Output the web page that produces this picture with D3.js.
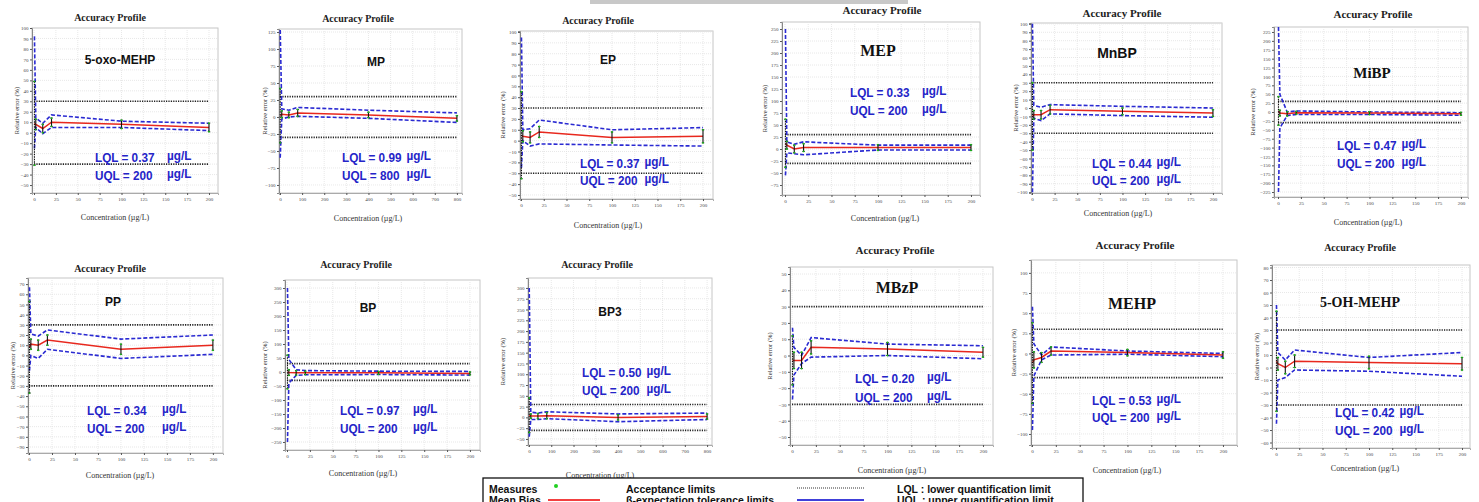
<!DOCTYPE html>
<html>
<head>
<meta charset="utf-8">
<script src="https://cdn.jsdelivr.net/npm/d3@7"></script>
<style>
  body { margin: 0; background: #fff; }
  svg { display: block; }
</style>
</head>
<body>
<script>
// ---- data ----
const compounds = ["5-oxo-MEHP", "MP", "EP", "MEP", "MnBP", "MiBP", "PP", "BP", "BP3", "MBzP", "MEHP", "5-OH-MEHP"];
const lqlValues = ["0.37", "0.99", "0.37", "0.33", "0.44", "0.47", "0.34", "0.97", "0.50", "0.20", "0.53", "0.42"];
const uqlValues = ["200", "800", "200", "200", "200", "200", "200", "200", "200", "200", "200", "200"];
// highest concentration level of each profile (µg/L)
const concMax = [200, 800, 200, 200, 200, 200, 200, 200, 800, 200, 200, 200];

// concentration levels (µg/L)
const levels200 = [0.5, 2, 10, 20, 100, 200];
const levels800 = [1, 8, 40, 80, 400, 800];

// relative error (%) per compound, one value per level
const meanBias = [
  [9, 8, 4, 10, 8, 5],
  [2, 4, 3, 6, 3, -2],
  [5, 4, 3, 8, 3, 4],
  [12, 8, 0, 3, 3, 3],
  [-10, -8, -8, -2, -4, -6],
  [3, -3, -5, -2, -3, -5],
  [8, 11, 10, 15, 6, 10],
  [0, -2, -3, -3, -3, -5],
  [5, 3, 3, 4, 0, 2],
  [-3, -3, -3, 5, 4, 2],
  [-12, -8, -5, 3, 1, -2],
  [5, 3, 0, 5, 4, 3]
];
const upperTol = [
  [92, 14, 9, 17, 11, 9],
  [128, 12, 10, 14, 10, 6],
  [95, 10, 11, 19, 10, 12],
  [250, 15, 10, 15, 8, 8],
  [100, 3, 1, 4, 2, 0],
  [239, 50, 0, 3, 0, -2],
  [67, 21, 19, 25, 16, 20],
  [300, 45, 8, 5, 3, 2],
  [300, 12, 10, 13, 8, 10],
  [17, 5, 0, 11, 7, 6],
  [58, 12, -2, 8, 3, 0],
  [50, 12, 6, 14, 8, 12]
];
const lowerTol = [
  [-15, 5, -1, 5, 5, 2],
  [-60, -3, 0, 1, -2, -8],
  [-25, 0, -5, -3, -4, -5],
  [-55, -8, -10, -12, -2, -2],
  [-100, -12, -15, -7, -9, -11],
  [-225, -45, -10, -7, -7, -9],
  [-15, 0, -3, 6, -3, 1],
  [-250, -40, -12, -10, -9, -11],
  [-45, -5, -5, -3, -10, -5],
  [-27, -12, -5, -1, 0, -2],
  [-95, -28, -8, -2, -1, -4],
  [-45, -10, -8, -2, -3, -7]
];
// half length of the black error bars on the measures
const errHalf = [
  [40, 5, 4, 4, 4, 4],
  [40, 5, 4, 5, 4, 4],
  [40, 5, 5, 5, 5, 6],
  [50, 8, 8, 8, 6, 6],
  [40, 5, 5, 5, 4, 4],
  [40, 8, 6, 4, 4, 4],
  [45, 5, 5, 5, 5, 5],
  [60, 10, 8, 6, 5, 5],
  [40, 5, 6, 7, 6, 6],
  [15, 5, 5, 4, 4, 3],
  [50, 10, 6, 5, 4, 4],
  [40, 5, 5, 5, 5, 5]
];
const acceptance = 30;

// ---- layout of the 12 little plots ----
const panels = [
  {box: [32, 28, 218, 193], x: [-2.3, 210.3], y: [-57.6, 100], yStep: 10, xStep: 25, title: [110, 17, 10], name: [120, 60, "sans", 12], lql: [95, 157, 175], unitX: 167, xTitle: [115, 217], yTitleX: 17},
  {box: [279, 29, 462, 193], x: [-4.5, 823], y: [-111.8, 129.4], yStep: 25, xStep: 100, title: [358, 18, 10], name: [376, 62, "sans", 12], lql: [342, 157, 175], unitX: 0, xTitle: [368, 218], yTitleX: 265},
  {box: [520, 31, 713, 199], x: [-1.1, 211], y: [-53.7, 100.9], yStep: 10, xStep: 25, title: [598, 20, 10], name: [608, 60, "sans", 12], lql: [580, 163, 180], unitX: 0, xTitle: [608, 225], yTitleX: 503},
  {box: [782, 22, 980, 195], x: [-3.2, 209.7], y: [-95.8, 264.6], yStep: 25, xStep: 25, title: [882, 10, 11], name: [878, 50, "serif", 16], lql: [850, 92, 110], unitX: 922, xTitle: [885, 218], yTitleX: 765},
  {box: [1031, 23, 1222, 193], x: [-1.1, 210], y: [-101, 101], yStep: 10, xStep: 25, title: [1122, 13, 11], name: [1117, 53, "sans", 14], lql: [1092, 163, 180], unitX: 0, xTitle: [1118, 213], yTitleX: 1016},
  {box: [1274, 27, 1468, 197], x: [-4.4, 207.7], y: [-239, 239], yStep: 25, xStep: 25, title: [1373, 14, 11], name: [1372, 73, "serif", 15], lql: [1337, 145, 163], unitX: 0, xTitle: [1368, 222], yTitleX: 1253},
  {box: [28, 278, 223, 453], x: [-1.1, 211], y: [-95.9, 76], yStep: 10, xStep: 25, title: [110, 268, 10], name: [113, 302, "sans", 12], lql: [87, 410, 428], unitX: 162, xTitle: [120, 475], yTitleX: 13},
  {box: [285, 280, 480, 450], x: [-2.2, 211], y: [-278.6, 328.6], yStep: 50, xStep: 25, title: [356, 264, 10], name: [368, 308, "sans", 12], lql: [340, 410, 428], unitX: 413, xTitle: [363, 473], yTitleX: 265},
  {box: [528, 278, 712, 445], x: [-4.5, 822], y: [-64, 323], yStep: 25, xStep: 100, title: [597, 264, 10], name: [610, 312, "sans", 12], lql: [582, 372, 390], unitX: 0, xTitle: [600, 475], yTitleX: 503},
  {box: [790, 267, 993, 445], x: [-2.1, 210.5], y: [-54.9, 54.3], yStep: 10, xStep: 25, title: [895, 250, 11], name: [897, 287, "serif", 16], lql: [855, 378, 397], unitX: 927, xTitle: [892, 470], yTitleX: 770},
  {box: [1031, 260, 1237, 445], x: [-1, 214.7], y: [-113.7, 116], yStep: 25, xStep: 25, title: [1135, 245, 11], name: [1132, 303, "serif", 16], lql: [1092, 400, 417], unitX: 0, xTitle: [1127, 470], yTitleX: 1014},
  {box: [1272, 265, 1470, 448], x: [-4.3, 208.6], y: [-64.4, 82], yStep: 10, xStep: 25, title: [1360, 247, 10], name: [1360, 302, "serif", 14], lql: [1335, 412, 430], unitX: 0, xTitle: [1365, 468], yTitleX: 1257}
];

const width = 1479, height = 502;
const SERIF = "'Liberation Serif', 'Times New Roman', serif";
const SANS = "'Liberation Sans', Arial, sans-serif";
const blue = "#2a2ad2", red = "#e8281e", textBlue = "#2424c8";
const squeeze = 0.87;

const svg = d3.select("body").append("svg")
  .attr("width", width)
  .attr("height", height)
  .style("background", "#fff");

// grey strip at the very top (edge of the previous figure)
svg.append("rect").attr("x", 590).attr("y", 0).attr("width", 318).attr("height", 4).attr("fill", "#c8c8c8");

// condensed bold blue text like the LQL/UQL notes
function narrowText(g, str, tx, ty) {
  const t = g.append("text")
    .attr("transform", `translate(${tx},${ty}) scale(${squeeze},1)`)
    .attr("dy", "0.35em")
    .attr("font-family", SANS).attr("font-weight", "bold").attr("font-size", 13.5)
    .attr("fill", textBlue).text(str);
  return t.node().getComputedTextLength() * squeeze;
}

panels.forEach((p, i) => {
  const [x0, y0, x1, y1] = p.box;
  const levels = concMax[i] === 800 ? levels800 : levels200;
  const xMax = concMax[i];
  const x = d3.scaleLinear().domain(p.x).range([x0, x1]);
  const y = d3.scaleLinear().domain(p.y).range([y1, y0]);
  const g = svg.append("g");

  g.append("clipPath").attr("id", "clip" + i)
    .append("rect").attr("x", x0).attr("y", y0).attr("width", x1 - x0).attr("height", y1 - y0);

  g.append("rect")
    .attr("x", x0).attr("y", y0).attr("width", x1 - x0).attr("height", y1 - y0)
    .attr("fill", "#fff").attr("stroke", "#c6c6c6").attr("stroke-width", 1);

  const yTicks = d3.range(Math.ceil(p.y[0] / p.yStep) * p.yStep, p.y[1] + 0.01, p.yStep);
  const xTicks = d3.range(0, xMax + 0.01, p.xStep);

  // light dotted grid
  g.selectAll(".gy").data(yTicks).join("line")
    .attr("x1", x0).attr("x2", x1).attr("y1", d => y(d)).attr("y2", d => y(d))
    .attr("stroke", "#e2e2e2").attr("stroke-dasharray", "1,1").attr("stroke-width", 0.8);
  g.selectAll(".gx").data(xTicks).join("line")
    .attr("x1", d => x(d)).attr("x2", d => x(d)).attr("y1", y0).attr("y2", y1)
    .attr("stroke", "#e2e2e2").attr("stroke-dasharray", "1,1").attr("stroke-width", 0.8);

  // axes
  const yAxis = g.append("g").attr("transform", `translate(${x0},0)`)
    .call(d3.axisLeft(y).tickValues(yTicks).tickSize(2).tickPadding(1.5));
  yAxis.select(".domain").attr("stroke", "#888");
  yAxis.selectAll("line").attr("stroke", "#555");
  yAxis.selectAll("text").attr("font-size", 5).attr("font-family", SERIF).attr("fill", "#444");

  const xAxis = g.append("g").attr("transform", `translate(0,${y1})`)
    .call(d3.axisBottom(x).tickValues(xTicks).tickSize(2).tickPadding(2.5));
  xAxis.select(".domain").attr("stroke", "#aaa");
  xAxis.selectAll("line").attr("stroke", "#555");
  xAxis.selectAll("text").attr("font-size", 5).attr("font-family", SERIF).attr("fill", "#444");

  const plot = g.append("g").attr("clip-path", `url(#clip${i})`);

  // acceptance limits
  [acceptance, -acceptance].forEach(a => {
    plot.append("line")
      .attr("x1", x(0)).attr("x2", x(xMax)).attr("y1", y(a)).attr("y2", y(a))
      .attr("stroke", "#222").attr("stroke-width", 1.6).attr("stroke-dasharray", "1.2,1.2");
  });

  const pts = levels.map((c, k) => ({c, k}));

  // tolerance limits
  [upperTol[i], lowerTol[i]].forEach(arr => {
    plot.append("path").datum(pts)
      .attr("d", d3.line().x(d => x(d.c)).y(d => y(arr[d.k])))
      .attr("fill", "none").attr("stroke", blue).attr("stroke-width", 1.6)
      .attr("stroke-dasharray", "4,2");
  });

  // mean bias
  plot.append("path").datum(pts)
    .attr("d", d3.line().x(d => x(d.c)).y(d => y(meanBias[i][d.k])))
    .attr("fill", "none").attr("stroke", red).attr("stroke-width", 1.5);

  // error bars on measures
  pts.forEach(d => {
    const b = meanBias[i][d.k], h = errHalf[i][d.k];
    const cx = x(d.c);
    plot.append("line")
      .attr("x1", cx).attr("x2", cx).attr("y1", y(b - h)).attr("y2", y(b + h))
      .attr("stroke", "#111").attr("stroke-width", 1.1)
      .attr("stroke-dasharray", d.k === 0 ? "1.5,1" : null);
    [b - h, b + h].forEach(v => {
      plot.append("line")
        .attr("x1", cx - 1.2).attr("x2", cx + 1.2).attr("y1", y(v)).attr("y2", y(v))
        .attr("stroke", "#111").attr("stroke-width", 1);
      plot.append("circle").attr("cx", cx).attr("cy", y(v)).attr("r", 0.9).attr("fill", "#19c419");
    });
  });

  // texts
  g.append("text")
    .attr("x", p.title[0]).attr("y", p.title[1]).attr("dy", "0.35em")
    .attr("text-anchor", "middle").attr("font-family", SERIF).attr("font-weight", "bold")
    .attr("font-size", p.title[2]).attr("fill", "#222")
    .text("Accuracy Profile");

  g.append("text")
    .attr("x", p.xTitle[0]).attr("y", p.xTitle[1]).attr("dy", "0.35em")
    .attr("text-anchor", "middle").attr("font-family", SERIF)
    .attr("font-size", 8).attr("fill", "#333")
    .text("Concentration (µg/L)");

  g.append("text")
    .attr("transform", `translate(${p.yTitleX},${(y0 + y1) / 2}) rotate(-90)`)
    .attr("dy", "0.35em").attr("text-anchor", "middle").attr("font-family", SERIF)
    .attr("font-size", 6.5).attr("fill", "#333")
    .text("Relative error (%)");

  g.append("text")
    .attr("x", p.name[0]).attr("y", p.name[1]).attr("dy", "0.35em")
    .attr("text-anchor", "middle")
    .attr("font-family", p.name[2] === "serif" ? SERIF : SANS)
    .attr("font-weight", "bold").attr("font-size", p.name[3]).attr("fill", "#111")
    .text(compounds[i]);

  // LQL / UQL notes: the unit sits at a fixed column when there is a gap,
  // otherwise right after the longer of the two labels
  const qlLines = [["LQL = " + lqlValues[i], p.lql[1]], ["UQL = " + uqlValues[i], p.lql[2]]];
  const widths = qlLines.map(([txt, ty]) => narrowText(g, txt, p.lql[0], ty));
  const ux = Math.max(p.unitX, p.lql[0] + d3.max(widths) + 5);
  qlLines.forEach(([, ty]) => narrowText(g, "µg/L", ux, ty - 1.5));
});

// ---- legend ----
const lg = svg.append("g");
lg.append("rect").attr("x", 483).attr("y", 478).attr("width", 600).attr("height", 30)
  .attr("fill", "#fff").attr("stroke", "#111").attr("stroke-width", 1.3);

const legendText = [
  ["Measures", 489, 489], ["Mean Bias", 489, 500],
  ["Acceptance limits", 626, 489], ["β-expectation tolerance limits", 626, 500],
  ["LQL : lower quantification limit", 897, 489], ["UQL : upper quantification limit", 897, 500]
];
lg.selectAll("text.lg").data(legendText).join("text")
  .attr("x", d => d[1]).attr("y", d => d[2]).attr("dy", "0.35em")
  .attr("font-family", SANS).attr("font-weight", "bold").attr("font-size", 10.5).attr("fill", "#111")
  .text(d => d[0]);

lg.append("circle").attr("cx", 556).attr("cy", 486).attr("r", 2).attr("fill", "#22d022");
lg.append("line").attr("x1", 548).attr("x2", 600).attr("y1", 500).attr("y2", 500)
  .attr("stroke", "#e00").attr("stroke-width", 1.5);
lg.append("line").attr("x1", 797).attr("x2", 864).attr("y1", 488).attr("y2", 488)
  .attr("stroke", "#333").attr("stroke-width", 1).attr("stroke-dasharray", "1,1");
lg.append("line").attr("x1", 797).attr("x2", 864).attr("y1", 500).attr("y2", 500)
  .attr("stroke", "#00c").attr("stroke-width", 1.5);
</script>
</body>
</html>
